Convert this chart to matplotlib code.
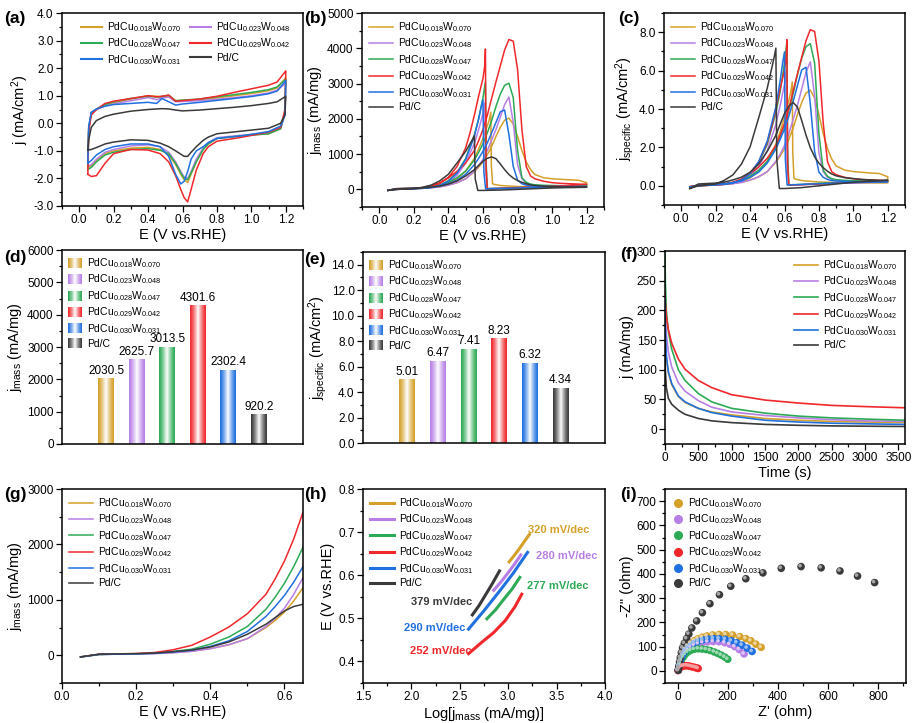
import numpy as np
import matplotlib
matplotlib.use("Agg")
import matplotlib.pyplot as plt
from matplotlib.ticker import MultipleLocator, FormatStrFormatter, NullLocator
from matplotlib.colors import LinearSegmentedColormap, to_rgb
from matplotlib.legend_handler import HandlerBase
from matplotlib.patches import Rectangle, Patch
from matplotlib.lines import Line2D
from matplotlib.transforms import offset_copy

plt.rcParams['font.family'] = ['Liberation Sans', 'DejaVu Sans']
plt.rcParams['mathtext.fontset'] = 'custom'
plt.rcParams['mathtext.rm'] = 'Liberation Sans'
plt.rcParams['mathtext.it'] = 'Liberation Sans:italic'
plt.rcParams['mathtext.default'] = 'regular'
plt.rcParams['axes.unicode_minus'] = False
plt.rcParams['axes.linewidth'] = 1.1

names = ['PdCu$_{0.018}$W$_{0.070}$', 'PdCu$_{0.023}$W$_{0.048}$', 'PdCu$_{0.028}$W$_{0.047}$',
         'PdCu$_{0.029}$W$_{0.042}$', 'PdCu$_{0.030}$W$_{0.031}$', 'Pd/C']
colors = ['#D4A02A', '#B77FE6', '#2DAA55', '#F0282C', '#2070E0', '#3A3A3A']

# ---- (a) CV in N2, anodic and cathodic branches
cv_E_an = [0.05, 0.055, 0.07, 0.1, 0.15, 0.2, 0.3, 0.4, 0.45, 0.48, 0.52, 0.56, 0.6, 0.7, 0.8, 0.9, 1.0, 1.1, 1.15, 1.2]
cv_j_an = [
    [-1.60, -0.2, 0.35, 0.5, 0.65, 0.75, 0.88, 1.0, 0.98, 0.95, 0.97, 0.82, 0.83, 0.86, 0.92, 1.0, 1.08, 1.18, 1.28, 1.65],
    [-1.55, -0.2, 0.35, 0.5, 0.63, 0.7, 0.82, 0.93, 0.86, 0.92, 0.95, 0.78, 0.79, 0.82, 0.87, 0.93, 1.0, 1.1, 1.2, 1.45],
    [-1.68, -0.2, 0.38, 0.52, 0.68, 0.78, 0.9, 0.98, 0.95, 0.97, 1.02, 0.82, 0.84, 0.88, 0.96, 1.04, 1.12, 1.22, 1.32, 1.6],
    [-1.85, -0.3, 0.3, 0.5, 0.72, 0.8, 0.9, 1.0, 0.96, 0.98, 1.02, 0.80, 0.82, 0.88, 0.98, 1.12, 1.25, 1.38, 1.5, 1.9],
    [-1.45, -0.1, 0.4, 0.52, 0.62, 0.68, 0.72, 0.76, 0.72, 0.9, 0.78, 0.66, 0.70, 0.76, 0.83, 0.9, 0.97, 1.07, 1.17, 1.55],
    [-0.97, -0.6, -0.15, 0.1, 0.25, 0.33, 0.44, 0.5, 0.52, 0.53, 0.52, 0.48, 0.45, 0.48, 0.53, 0.58, 0.64, 0.72, 0.78, 0.98],
]
cv_E_ca = [1.2, 1.195, 1.17, 1.1, 0.95, 0.8, 0.75, 0.72, 0.68, 0.65, 0.63, 0.61, 0.59, 0.56, 0.52, 0.47, 0.4, 0.3, 0.2, 0.15, 0.1, 0.07, 0.05]
cv_j_ca = [
    [1.65, 0.4, -0.2, -0.38, -0.45, -0.55, -0.75, -0.95, -1.4, -1.85, -2.15, -2.05, -1.85, -1.5, -1.15, -0.95, -0.87, -0.9, -1.0, -1.1, -1.35, -1.55, -1.6],
    [1.45, 0.3, -0.18, -0.35, -0.43, -0.52, -0.7, -0.9, -1.3, -1.75, -2.0, -1.95, -1.75, -1.4, -1.05, -0.85, -0.78, -0.82, -0.95, -1.05, -1.3, -1.5, -1.55],
    [1.6, 0.4, -0.2, -0.38, -0.45, -0.55, -0.75, -0.95, -1.4, -1.8, -2.05, -2.0, -1.8, -1.45, -1.1, -0.98, -0.92, -0.95, -1.05, -1.15, -1.4, -1.6, -1.68],
    [1.9, 0.5, -0.15, -0.32, -0.5, -0.65, -0.85, -1.1, -1.7, -2.4, -2.85, -2.7, -2.4, -1.9, -1.4, -1.1, -0.97, -0.95, -1.1, -1.45, -1.9, -1.93, -1.85],
    [1.55, 0.3, -0.1, -0.3, -0.45, -0.55, -0.7, -0.85, -1.0, -1.3, -1.75, -2.1, -2.2, -1.85, -1.2, -0.85, -0.75, -0.75, -0.85, -0.95, -1.15, -1.35, -1.45],
    [0.98, 0.3, 0.0, -0.18, -0.28, -0.38, -0.5, -0.62, -0.85, -1.05, -1.2, -1.2, -1.12, -1.0, -0.85, -0.72, -0.62, -0.6, -0.68, -0.75, -0.88, -0.95, -0.97],
]

# ---- (b) ethanol oxidation, forward scan (also used for g)
fwd_E = [0.05, 0.1, 0.15, 0.2, 0.25, 0.3, 0.35, 0.4, 0.45, 0.5, 0.55, 0.575, 0.6, 0.625, 0.65, 0.675, 0.7, 0.725, 0.75,
         0.775, 0.8, 0.825, 0.85, 0.875, 0.9, 0.95, 1.0, 1.05, 1.1, 1.15, 1.2]
fwd_j = [
    [-30, 15, 20, 25, 35, 50, 75, 120, 190, 300, 500, 630, 780, 980, 1220, 1500, 1760, 1960, 2020, 1850, 1500, 1100, 780, 560, 420, 330, 300, 285, 270, 260, 190],
    [-30, 15, 20, 25, 30, 45, 70, 120, 190, 300, 520, 670, 850, 1100, 1400, 1700, 2050, 2400, 2620, 1900, 700, 300, 180, 140, 120, 100, 90, 85, 80, 80, 80],
    [-30, 15, 22, 28, 40, 70, 110, 200, 330, 520, 830, 1050, 1300, 1600, 1950, 2350, 2700, 2950, 3010, 2600, 1100, 330, 200, 150, 130, 115, 110, 105, 100, 100, 100],
    [-30, 20, 25, 32, 50, 100, 180, 330, 510, 750, 1100, 1380, 1700, 2100, 2580, 3050, 3500, 3950, 4250, 4200, 3400, 1700, 650, 380, 300, 230, 190, 170, 160, 150, 140],
    [-30, 15, 20, 25, 35, 60, 90, 160, 260, 430, 700, 880, 1080, 1320, 1600, 1900, 2200, 2250, 1550, 650, 260, 160, 120, 100, 90, 85, 80, 80, 80, 80, 80],
    [-30, 20, 25, 30, 40, 65, 95, 150, 240, 380, 560, 680, 800, 880, 920, 870, 720, 560, 420, 320, 250, 200, 160, 130, 110, 90, 80, 70, 65, 60, 60],
]
# backward scans
bwd_E = [
    [1.2, 1.0, 0.8, 0.7, 0.665, 0.655, 0.648, 0.645, 0.635, 0.6, 0.575, 0.55, 0.5, 0.45, 0.4, 0.35, 0.3, 0.25, 0.2, 0.1, 0.05],
    [1.2, 1.0, 0.8, 0.7, 0.64, 0.625, 0.615, 0.61, 0.6, 0.575, 0.55, 0.5, 0.45, 0.4, 0.35, 0.3, 0.25, 0.2, 0.1, 0.05],
    [1.2, 1.0, 0.8, 0.7, 0.64, 0.625, 0.618, 0.614, 0.6, 0.575, 0.55, 0.5, 0.45, 0.4, 0.35, 0.3, 0.25, 0.2, 0.1, 0.05],
    [1.2, 1.1, 1.0, 0.9, 0.8, 0.7, 0.64, 0.625, 0.618, 0.614, 0.61, 0.6, 0.575, 0.55, 0.525, 0.5, 0.45, 0.4, 0.35, 0.3, 0.25, 0.2, 0.1, 0.05],
    [1.2, 1.0, 0.8, 0.7, 0.64, 0.615, 0.605, 0.6, 0.59, 0.575, 0.55, 0.5, 0.45, 0.4, 0.35, 0.3, 0.25, 0.2, 0.1, 0.05],
    [1.2, 1.0, 0.8, 0.7, 0.6, 0.57, 0.555, 0.55, 0.54, 0.52, 0.5, 0.45, 0.4, 0.35, 0.3, 0.25, 0.2, 0.1, 0.05],
]
bwd_j = [
    [60, 60, 80, 110, 140, 160, 700, 2190, 1950, 1450, 1150, 880, 520, 300, 170, 95, 50, 30, 20, 0, -20],
    [80, 60, 40, 25, 20, 20, 500, 2450, 2150, 1700, 1300, 750, 400, 200, 100, 50, 30, 20, 0, -20],
    [100, 80, 50, 30, 20, 20, 800, 3050, 2600, 2000, 1550, 880, 480, 250, 120, 60, 35, 20, 0, -20],
    [140, 110, 90, 70, 50, 30, 20, 20, 600, 3980, 3500, 3150, 2650, 2100, 1600, 1180, 650, 340, 170, 80, 40, 20, 0, -20],
    [80, 60, 40, 25, 20, 15, 500, 2540, 2350, 2000, 1500, 850, 460, 230, 110, 55, 30, 20, 0, -20],
    [60, 40, 0, -20, -30, -30, 300, 1520, 1420, 1250, 1080, 750, 430, 240, 120, 60, 20, 0, -30],
]

# ---- (d), (e) peak current densities
mass_peak = [2030.5, 2625.7, 3013.5, 4301.6, 2302.4, 920.2]
spec_peak = [5.01, 6.47, 7.41, 8.23, 6.32, 4.34]

# ---- (f) chronoamperometry
ca_t = [0, 5, 20, 50, 100, 200, 300, 500, 700, 1000, 1500, 2000, 2500, 3000, 3600]
ca_j = [
    [200, 160, 120, 95, 75, 55, 45, 35, 29, 24, 18, 15, 13, 12, 11],
    [250, 200, 160, 130, 105, 78, 64, 48, 37, 29, 23, 19, 16, 14, 13],
    [300, 250, 200, 165, 135, 100, 82, 60, 46, 35, 27, 22, 19, 17, 15],
    [230, 215, 190, 168, 145, 118, 101, 82, 70, 58, 49, 44, 40, 38, 36],
    [220, 170, 125, 97, 77, 56, 46, 35, 28, 22, 15, 12, 10, 9, 8],
    [150, 100, 70, 52, 42, 32, 25, 18, 14, 11, 8, 6.5, 5.5, 5, 4.5],
]

# ---- (h) Tafel
tafel_x = [
    [3.01, 3.06, 3.11, 3.16, 3.22],
    [2.85, 2.92, 2.99, 3.06, 3.13],
    [2.78, 2.87, 2.95, 3.04, 3.12],
    [2.59, 2.73, 2.85, 2.97, 3.07, 3.14],
    [2.59, 2.74, 2.90, 3.05, 3.20],
    [2.63, 2.70, 2.77, 2.84, 2.91],
]
tafel_E = [
    [0.631, 0.645, 0.660, 0.676, 0.695],
    [0.565, 0.583, 0.603, 0.624, 0.647],
    [0.499, 0.520, 0.543, 0.568, 0.595],
    [0.418, 0.445, 0.467, 0.495, 0.527, 0.556],
    [0.475, 0.515, 0.560, 0.604, 0.653],
    [0.508, 0.530, 0.556, 0.582, 0.610],
]
tafel_slope = ['320', '280', '277', '252', '290', '379']

# ---- (i) Nyquist
nyq_re = [
    [3, 6, 10, 15, 22, 30, 40, 52, 66, 81, 98, 117, 140, 165, 192, 219, 248, 272, 292, 312, 333],
    [3, 6, 10, 15, 22, 30, 40, 52, 66, 82, 100, 120, 142, 165, 188, 208, 228, 246, 265],
    [3, 6, 10, 15, 22, 30, 40, 52, 66, 82, 98, 114, 130, 146, 160, 174, 188, 200],
    [2, 4, 7, 11, 16, 22, 29, 37, 45, 53, 61, 69, 76, 82],
    [3, 6, 10, 15, 22, 30, 40, 52, 66, 82, 100, 120, 142, 165, 190, 214, 236, 257, 277, 297],
    [3, 5, 8, 11, 15, 20, 27, 36, 45, 57, 76, 99, 129, 167, 212, 272, 340, 413, 492, 572, 647, 717, 785],
]
nyq_im = [
    [3, 20, 38, 55, 72, 88, 102, 114, 124, 132, 139, 144, 148, 150, 150, 148, 141, 133, 124, 110, 97],
    [3, 18, 34, 50, 64, 77, 88, 98, 106, 112, 117, 120, 121, 120, 116, 110, 100, 88, 70],
    [3, 16, 30, 43, 56, 67, 77, 84, 89, 91, 90, 88, 84, 78, 72, 65, 57, 48],
    [1, 6, 11, 15, 18, 20, 21, 21, 20, 18, 16, 14, 12, 10],
    [3, 20, 38, 54, 70, 84, 97, 107, 116, 123, 128, 132, 134, 133, 130, 124, 116, 106, 94, 80],
    [3, 16, 37, 55, 75, 95, 114, 133, 152, 177, 206, 240, 277, 314, 349, 380, 404, 423, 430, 425, 412, 391, 364],
]

W, H = 913, 723
fig = plt.figure(figsize=(W / 100, H / 100), dpi=100)


def add_ax(l, r, t, b):
    return fig.add_axes([l / W, 1 - b / H, (r - l) / W, (b - t) / H])


def style(ax, xmaj, xmin, ymaj, ymin, xfmt=None, yfmt=None):
    if xmaj is None:
        ax.xaxis.set_major_locator(NullLocator())
    else:
        ax.xaxis.set_major_locator(MultipleLocator(xmaj))
        ax.xaxis.set_minor_locator(MultipleLocator(xmin))
    ax.yaxis.set_major_locator(MultipleLocator(ymaj))
    ax.yaxis.set_minor_locator(MultipleLocator(ymin))
    if xfmt:
        ax.xaxis.set_major_formatter(FormatStrFormatter(xfmt))
    if yfmt:
        ax.yaxis.set_major_formatter(FormatStrFormatter(yfmt))
    ax.tick_params(which='both', direction='out', labelsize=8.5, width=0.9, pad=2)
    ax.tick_params(which='major', length=4)
    ax.tick_params(which='minor', length=2.5)


def leg(ax, handles=None, **kw):
    opts = dict(loc='upper left', frameon=False, fontsize=7.5, labelspacing=0.25,
                handlelength=2.3, handletextpad=0.5, borderaxespad=0.3)
    opts.update(kw)
    if handles is None:
        return ax.legend(**opts)
    return ax.legend(handles=handles, **opts)


class GradientHandler(HandlerBase):
    def create_artists(self, legend, orig_handle, xdescent, ydescent, width, height, fontsize, trans):
        base = np.array(to_rgb(orig_handle.get_facecolor()))
        n = 14
        arts = []
        for k in range(n):
            w = (1 - abs(2 * (k + 0.5) / n - 1)) ** 1.3
            c = base * (1 - w) + w
            arts.append(Rectangle((-xdescent + k * width / n, -ydescent), width / n * 1.08, height,
                                  facecolor=c, edgecolor='none', transform=trans))
        return arts


# ===== (a)
ax = add_ax(62, 303, 13, 206)
for k in range(6):
    ax.plot(cv_E_an + cv_E_ca, cv_j_an[k] + cv_j_ca[k], color=colors[k], lw=1.1)
ax.set_xlim(-0.1, 1.3)
ax.set_ylim(-3, 4)
style(ax, 0.2, 0.1, 1.0, 0.5, '%.1f', '%.1f')
ax.set_xlabel('E (V vs.RHE)', fontsize=10.5, labelpad=1)
ax.set_ylabel('j (mA/cm$^2$)', fontsize=10.5, labelpad=2)
hs = [Line2D([], [], color=colors[k], lw=1.5, label=names[k]) for k in range(6)]
leg(ax, [hs[0], hs[2], hs[4], hs[1], hs[3], hs[5]], ncol=2, columnspacing=0.8,
    bbox_to_anchor=(0.05, 1.0), handlelength=2.0)

# ===== (b) and (c)
for panel, (l, r, t, b) in zip(['b', 'c'], [(362, 604, 13, 207), (664, 905, 13, 205)]):
    ax = add_ax(l, r, t, b)
    for k in range(6):
        jj = np.array(fwd_j[k] + bwd_j[k], dtype=float)
        if panel == 'c':
            jj = jj * spec_peak[k] / mass_peak[k]
        ax.plot(fwd_E + bwd_E[k], jj, color=colors[k], lw=1.1, label=names[k])
    ax.set_xlim(-0.1, 1.3)
    ax.set_xlabel('E (V vs.RHE)', fontsize=10.5, labelpad=1)
    if panel == 'b':
        ax.set_ylim(-500, 5000)
        style(ax, 0.2, 0.1, 1000, 500, '%.1f', None)
        ax.set_ylabel('j$_{mass}$ (mA/mg)', fontsize=10.5, labelpad=2)
    else:
        ax.set_ylim(-1, 9)
        style(ax, 0.2, 0.1, 2.0, 1.0, '%.1f', '%.1f')
        ax.set_ylabel('j$_{specific}$ (mA/cm$^2$)', fontsize=10.5, labelpad=2)
    leg(ax, bbox_to_anchor=(0.0, 1.0))

# ===== (d) and (e)
xpos = np.arange(1, 7)
for panel, (l, r, t, b) in zip(['d', 'e'], [(62, 303, 250, 444), (363, 605, 252, 443)]):
    ax = add_ax(l, r, t, b)
    vals = mass_peak if panel == 'd' else spec_peak
    bars = ax.bar(xpos, vals, width=0.52, color=colors, zorder=1)
    for k, bar in enumerate(bars):
        g = (1 - np.abs(np.linspace(-1, 1, 101))) ** 1.3
        cmap = LinearSegmentedColormap.from_list('g%d' % k, [colors[k], 'white'])
        im = ax.imshow(g[None, :], cmap=cmap, vmin=0, vmax=1, aspect='auto', interpolation='bilinear',
                       extent=[xpos[k] - 0.26, xpos[k] + 0.26, 0, vals[k]], zorder=2)
        im.set_clip_path(bar)
    ax.set_xlim(-0.45, 7.45)
    if panel == 'd':
        ax.set_ylim(0, 6000)
        style(ax, None, None, 1000, 500, None, None)
        ax.set_ylabel('j$_{mass}$ (mA/mg)', fontsize=10.5, labelpad=2)
        ax.bar_label(bars, fmt='%.1f', padding=1, fontsize=8.5)
    else:
        ax.set_ylim(0, 15)
        style(ax, None, None, 2.0, 1.0, None, '%.1f')
        ax.set_ylabel('j$_{specific}$ (mA/cm$^2$)', fontsize=10.5, labelpad=2)
        ax.bar_label(bars, fmt='%.2f', padding=1, fontsize=8.5)
    ph = [Patch(facecolor=colors[k], label=names[k]) for k in range(6)]
    leg(ax, ph, handler_map={Patch: GradientHandler()}, handlelength=1.3, handleheight=1.1,
        bbox_to_anchor=(0.0, 1.0), borderaxespad=0.2)

# ===== (f)
ax = add_ax(665, 905, 251, 444)
for k in range(6):
    ax.plot(ca_t, ca_j[k], color=colors[k], lw=1.2, label=names[k])
ax.set_xlim(0, 3600)
ax.set_ylim(-25, 300)
style(ax, 500, 250, 50, 25, None, None)
ax.set_xlabel('Time (s)', fontsize=10.5, labelpad=1)
ax.set_ylabel('j (mA/mg)', fontsize=10.5, labelpad=2)
leg(ax, loc='upper right', bbox_to_anchor=(1.0, 1.0))

# ===== (g)
ax = add_ax(62, 303, 489, 683)
ng = fwd_E.index(0.65) + 1
for k in range(6):
    ax.plot(fwd_E[:ng], fwd_j[k][:ng], color=colors[k], lw=1.1, label=names[k])
ax.set_xlim(0, 0.65)
ax.set_ylim(-500, 3000)
style(ax, 0.2, 0.1, 1000, 500, '%.1f', None)
ax.set_xlabel('E (V vs.RHE)', fontsize=10.5, labelpad=1)
ax.set_ylabel('j$_{mass}$ (mA/mg)', fontsize=10.5, labelpad=2)
leg(ax, bbox_to_anchor=(0.0, 1.0))

# ===== (h)
ax = add_ax(363, 605, 489, 683)
for k in range(6):
    ax.plot(tafel_x[k], tafel_E[k], color=colors[k], lw=2.2, label=names[k])
ax.set_xlim(1.5, 4.0)
ax.set_ylim(0.35, 0.8)
style(ax, 0.5, 0.25, 0.1, 0.05, '%.1f', '%.1f')
ax.set_xlabel('Log[j$_{mass}$ (mA/mg)]', fontsize=10.5, labelpad=1)
ax.set_ylabel('E (V vs.RHE)', fontsize=10.5, labelpad=2)
leg(ax, bbox_to_anchor=(0.0, 1.0))
tpos = [(3.20, 0.706, 'left'), (3.29, 0.644, 'left'), (3.19, 0.575, 'left'),
        (2.62, 0.424, 'right'), (2.56, 0.478, 'right'), (2.63, 0.538, 'right')]
for k in range(6):
    x, y, ha = tpos[k]
    ax.text(x, y, tafel_slope[k] + ' mV/dec', color=colors[k], fontsize=8, fontweight='bold',
            ha=ha, va='center')

# ===== (i)
ax = add_ax(665, 906, 489, 683)
hl = offset_copy(ax.transData, fig=fig, x=-1.0, y=1.0, units='dots')
for k in range(6):
    ax.scatter(nyq_re[k], nyq_im[k], s=30, color=colors[k], edgecolors='none', zorder=2)
    light = np.array(to_rgb(colors[k])) * 0.45 + 0.55
    ax.scatter(nyq_re[k], nyq_im[k], s=7, color=light, edgecolors='none', zorder=3, transform=hl)
ax.set_xlim(-50, 910)
ax.set_ylim(-50, 750)
style(ax, 200, 100, 100, 50, None, None)
ax.set_xlabel("Z' (ohm)", fontsize=10.5, labelpad=1)
ax.set_ylabel('-Z" (ohm)', fontsize=10.5, labelpad=2)
mh = [Line2D([], [], ls='none', marker='o', ms=5.5, color=colors[k], label=names[k]) for k in range(6)]
leg(ax, mh, handlelength=1.0, bbox_to_anchor=(0.0, 1.0))

# panel letters
for txt, x, y in [('(a)', 4, 18), ('(b)', 304, 18), ('(c)', 618, 18),
                  ('(d)', 4, 257), ('(e)', 304, 259), ('(f)', 620, 254),
                  ('(g)', 4, 494), ('(h)', 304, 494), ('(i)', 620, 494)]:
    fig.text(x / W, 1 - y / H, txt, fontsize=12.5, fontweight='bold', va='center', ha='left')

fig.savefig('out.png', dpi=100)
